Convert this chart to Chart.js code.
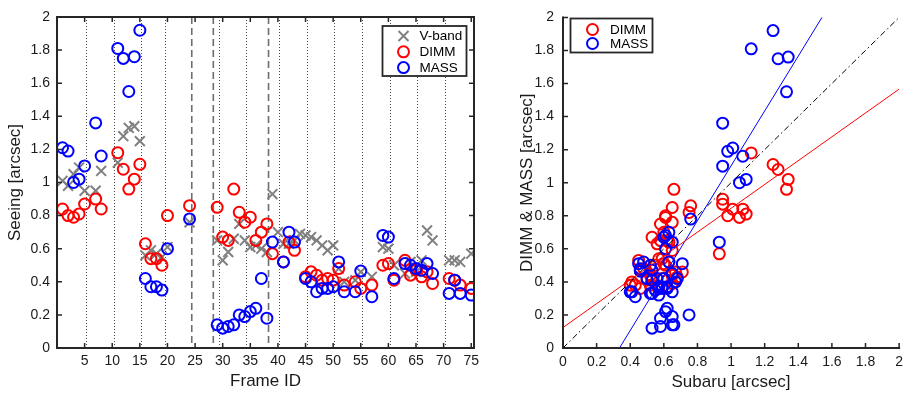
<!DOCTYPE html>
<html><head><meta charset="utf-8">
<script src="https://cdn.jsdelivr.net/npm/chart.js@4/dist/chart.umd.min.js"></script>
<style>
html,body{margin:0;padding:0;background:#fff;}
#wrap{position:relative;width:909px;height:396px;overflow:hidden;}
canvas{position:absolute;top:0;}
</style></head><body>
<div id="wrap">
<canvas id="left" width="500" height="396" style="left:0px"></canvas>
<canvas id="right" width="409" height="396" style="left:500px"></canvas>
</div>
<script>
// ---------------- data ----------------
const frames = [1,2,3,4,5,6,7,8,9,10,11,12,13,14,15,16,17,18,19,20,21,22,23,24,25,26,27,28,29,30,31,32,33,34,35,36,37,38,39,40,41,42,43,44,45,46,47,48,49,50,51,52,53,54,55,56,57,58,59,60,61,62,63,64,65,66,67,68,69,70,71,72,73,74,75];
const vband = [1.01,0.98,1.05,1.09,0.95,null,0.95,1.07,null,null,1.12,1.28,1.33,1.34,1.25,0.56,0.59,0.57,0.55,0.61,null,null,null,0.76,null,null,null,null,0.65,0.53,0.58,0.66,0.75,0.65,0.61,0.62,0.60,0.58,0.93,0.70,0.63,0.63,0.65,0.69,0.68,0.67,0.65,0.62,0.59,0.62,0.48,0.40,null,0.41,0.46,null,0.43,null,0.61,0.60,0.50,null,0.45,0.52,0.46,0.53,0.71,0.65,null,null,0.53,0.53,0.52,null,0.57];
const dimm  = [0.84,0.80,0.79,0.81,0.87,null,0.90,0.84,null,null,1.18,1.08,0.96,1.02,1.11,0.63,0.54,0.54,0.50,0.80,null,null,null,0.86,null,null,null,null,0.85,0.67,0.65,0.96,0.82,0.76,0.79,0.65,0.70,0.75,0.57,null,0.52,0.64,0.59,null,0.43,0.46,0.44,0.41,0.42,0.41,0.48,0.38,null,0.40,0.36,null,0.38,null,0.50,0.51,0.41,null,0.53,0.44,0.47,0.43,0.46,0.39,null,null,0.42,0.41,0.38,null,0.36];
const mass  = [1.21,1.19,1.00,1.02,1.10,null,1.36,1.16,null,null,1.81,1.75,1.55,1.76,1.92,0.42,0.37,0.37,0.35,0.60,null,null,null,0.78,null,null,null,null,0.14,0.12,0.13,0.14,0.20,0.19,0.22,0.24,0.42,0.18,0.64,null,0.52,0.70,0.64,null,0.42,0.40,0.34,0.36,0.36,0.37,0.52,0.34,null,0.34,0.465,null,0.31,null,0.68,0.67,0.42,null,0.51,0.50,0.48,0.47,0.51,0.45,null,null,0.33,0.41,0.33,null,0.32];

const frameTicks  = [5,10,15,20,25,30,35,40,45,50,55,60,65,70,75];
const seeingTicks = [0,0.2,0.4,0.6,0.8,1,1.2,1.4,1.6,1.8,2];
const subaruTicks = [0,0.2,0.4,0.6,0.8,1,1.2,1.4,1.6,1.8,2];
const dottedAt = [5.3,10.25,15.2,19.5,29.4,34.3,40.25,45.2,50.2,55.25,60.25,65.25,70.2];
const dashedAt = [24.4,28.3,38.3];
// linear fits: [slope, intercept]
const dimmFit = [0.721, 0.124];
const massFit = [1.66, -0.558];
const fitRange = [0, 2];

// ---------------- style ----------------
const INK = '#262626';
const FONT = '"Liberation Sans", Arial, Helvetica, sans-serif';
Chart.defaults.font.family = FONT;
Chart.defaults.color = '#1a1a1a';

function pts(xs, ys){
  const out=[];
  for(let i=0;i<xs.length;i++){ if(xs[i]!=null && ys[i]!=null) out.push({x:xs[i], y:ys[i]}); }
  return out;
}
function fitLine(f){ return fitRange.map(x=>({x:x, y:f[0]*x+f[1]})); }

function drawMarker(ctx, style, color, x, y){
  ctx.save();
  ctx.strokeStyle=color; ctx.lineWidth=2; ctx.setLineDash([]);
  ctx.beginPath();
  if(style==='x'){ const r=5; ctx.moveTo(x-r,y-r); ctx.lineTo(x+r,y+r); ctx.moveTo(x+r,y-r); ctx.lineTo(x-r,y+r); }
  else { ctx.arc(x,y,5.5,0,Math.PI*2); }
  ctx.stroke(); ctx.restore();
}

const framePlugin = {
  id: 'frame',
  beforeDatasetsDraw(chart, args, o){
    const {ctx, chartArea:a, scales:{x}} = chart;
    ctx.save();
    if(o.dotted){
      ctx.strokeStyle='rgba(40,40,40,0.85)'; ctx.lineWidth=1; ctx.setLineDash([1,2]);
      o.dotted.forEach(v=>{ const px=Math.round(x.getPixelForValue(v))+0.5; ctx.beginPath(); ctx.moveTo(px,a.top); ctx.lineTo(px,a.bottom); ctx.stroke(); });
    }
    if(o.dashed){
      ctx.strokeStyle='#6e6e6e'; ctx.lineWidth=1.6; ctx.setLineDash([7,4]);
      o.dashed.forEach(v=>{ const px=x.getPixelForValue(v); ctx.beginPath(); ctx.moveTo(px,a.top); ctx.lineTo(px,a.bottom); ctx.stroke(); });
    }
    ctx.restore();
  },
  afterDatasetsDraw(chart, args, o){
    const {ctx, chartArea:a, scales:{x,y}} = chart;
    ctx.save();
    ctx.strokeStyle=INK; ctx.lineWidth=2; ctx.setLineDash([]);
    ctx.beginPath();
    ctx.moveTo(a.left,a.top-1); ctx.lineTo(a.left,a.bottom); ctx.lineTo(a.right+1,a.bottom);
    if(o.box){ ctx.moveTo(a.left,a.top); ctx.lineTo(a.right,a.top); ctx.lineTo(a.right,a.bottom); }
    ctx.stroke();
    ctx.lineWidth=1.5;
    ctx.beginPath();
    x.ticks.forEach(t=>{ const px=x.getPixelForValue(t.value); ctx.moveTo(px,a.bottom); ctx.lineTo(px,a.bottom-5); if(o.box){ctx.moveTo(px,a.top); ctx.lineTo(px,a.top+5);} });
    y.ticks.forEach(t=>{ const py=y.getPixelForValue(t.value); ctx.moveTo(a.left,py); ctx.lineTo(a.left+5,py); if(o.box){ctx.moveTo(a.right,py); ctx.lineTo(a.right-5,py);} });
    ctx.stroke();
    // legend
    if(o.legend){
      const L=o.legend;
      ctx.fillStyle='#fff'; ctx.fillRect(L.x,L.y,L.w,L.h);
      ctx.strokeStyle=INK; ctx.lineWidth=1.8; ctx.strokeRect(L.x,L.y,L.w,L.h);
      ctx.font='13.5px '+FONT; ctx.fillStyle='#000'; ctx.textBaseline='middle'; ctx.textAlign='left';
      L.items.forEach((it,i)=>{
        const yy=L.y+L.first+i*L.step;
        drawMarker(ctx, it.style, it.color, L.x+L.mx, yy);
        ctx.fillText(it.label, L.x+L.tx, yy+0.5);
      });
    }
    ctx.restore();
  }
};

function axisCommon(ticksArr, title, titlePad, tickPad, fitSize, isX){
  return {
    type:'linear',
    grid:{display:false, drawTicks:false},
    border:{display:false},
    afterBuildTicks: s=>{ s.ticks = ticksArr.map(v=>({value:v})); },
    afterFit: s=>{ if(isX) s.height=fitSize; else s.width=fitSize; },
    ticks:{ padding:tickPad, font:{size:14}, color:'#1a1a1a', maxRotation:0, autoSkip:false,
            callback: v=>String(Math.round(v*10)/10) },
    title:{ display:true, text:title, font:{size:17}, color:'#1a1a1a', padding:titlePad }
  };
}

// ---------------- left chart ----------------
new Chart(document.getElementById('left'), {
  type:'scatter',
  data:{ datasets:[
    { label:'V-band', data:pts(frames,vband), pointStyle:'crossRot', pointRadius:7, borderColor:'#808080', backgroundColor:'#808080', borderWidth:2, order:3 },
    { label:'DIMM', data:pts(frames,dimm), pointStyle:'circle', pointRadius:5.5, borderColor:'#ff0000', backgroundColor:'rgba(0,0,0,0)', borderWidth:2, order:2 },
    { label:'MASS', data:pts(frames,mass), pointStyle:'circle', pointRadius:5.5, borderColor:'#0000ff', backgroundColor:'rgba(0,0,0,0)', borderWidth:2, order:1 }
  ]},
  options:{
    responsive:false, animation:false, events:[],
    layout:{ padding:{ left:0, right:26, top:17, bottom:0 } },
    scales:{
      x: Object.assign(axisCommon(frameTicks,'Frame ID',{top:0,bottom:4},5,48,true), {min:0, max:75.5}),
      y: Object.assign(axisCommon(seeingTicks,'Seeing [arcsec]',{top:5,bottom:0},7,57,false), {min:0, max:2})
    },
    plugins:{
      legend:{display:false}, tooltip:{enabled:false},
      frame:{ box:true, dotted:dottedAt, dashed:dashedAt,
        legend:{ x:382.5, y:26, w:84, h:50, first:10, step:15.8, mx:21, tx:37,
          items:[{label:'V-band',style:'x',color:'#808080'},{label:'DIMM',style:'o',color:'#ff0000'},{label:'MASS',style:'o',color:'#0000ff'}] } }
    }
  },
  plugins:[framePlugin]
});

// ---------------- right chart ----------------
new Chart(document.getElementById('right'), {
  type:'scatter',
  data:{ datasets:[
    { type:'line', label:'DIMM fit', data:fitLine(dimmFit), borderColor:'#ff0000', borderWidth:1, pointRadius:0, fill:false, order:1 },
    { type:'line', label:'MASS fit', data:fitLine(massFit), borderColor:'#0000ff', borderWidth:1, pointRadius:0, fill:false, order:1 },
    { type:'line', label:'1:1', data:fitRange.map(v=>({x:v,y:v})), borderColor:'#000', borderWidth:1, borderDash:[6,3,1.5,3], pointRadius:0, fill:false, order:1 },
    { label:'DIMM', data:pts(vband,dimm), pointStyle:'circle', pointRadius:5.5, borderColor:'#ff0000', backgroundColor:'rgba(0,0,0,0)', borderWidth:2, order:3 },
    { label:'MASS', data:pts(vband,mass), pointStyle:'circle', pointRadius:5.5, borderColor:'#0000ff', backgroundColor:'rgba(0,0,0,0)', borderWidth:2, order:2 }
  ]},
  options:{
    responsive:false, animation:false, events:[],
    layout:{ padding:{ left:0, right:9, top:10, bottom:0 } },
    scales:{
      x: Object.assign(axisCommon(subaruTicks,'Subaru [arcsec]',{top:0,bottom:3},6,48,true), {min:0, max:2}),
      y: Object.assign(axisCommon(subaruTicks,'DIMM & MASS [arcsec]',{top:17,bottom:0},9,63,false), {min:0, max:2})
    },
    plugins:{
      legend:{display:false}, tooltip:{enabled:false},
      frame:{ box:false,
        legend:{ x:70.5, y:18.5, w:82, h:34, first:11, step:14, mx:22, tx:39.5,
          items:[{label:'DIMM',style:'o',color:'#ff0000'},{label:'MASS',style:'o',color:'#0000ff'}] } }
    }
  },
  plugins:[framePlugin]
});
</script>
</body></html>
